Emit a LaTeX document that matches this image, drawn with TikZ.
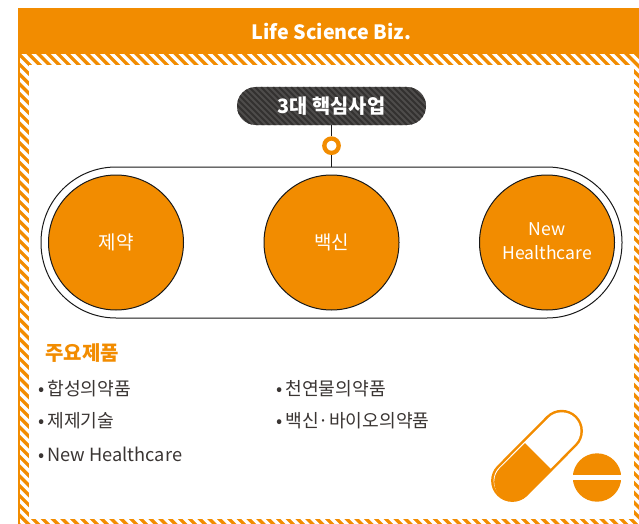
\documentclass[tikz,border=0pt]{standalone}
\usepackage{fontspec}
\setmainfont{Noto Sans CJK KR}
\definecolor{brand}{HTML}{F28C00}
\definecolor{pilldark}{HTML}{4E4C4B}
\definecolor{pillstripe}{HTML}{333130}
\definecolor{inktext}{HTML}{3A3533}
\tikzset{
  bigcircle/.style={circle,draw=black!90,line width=1pt,fill=brand,minimum size=135pt,inner sep=0pt,
     text=white,font=\fontsize{19}{24}\selectfont,align=center},
  trackbox/.style={draw=black!90,line width=1pt,rounded corners=75pt,minimum width=581pt,minimum height=151pt,inner sep=0pt},
  titlepill/.style={rounded corners=18.8pt,minimum width=189pt,minimum height=38pt,inner sep=0pt,fill=pilldark,text=white,
     font=\fontsize{19.8}{22}\selectfont\bfseries,
     path picture={\foreach \s in {-60,-54,...,200}{\draw[pillstripe,line width=2.1pt]
        ([xshift=\s pt]path picture bounding box.north west) -- ++(60pt,-60pt);}}},
  ringnode/.style={circle,draw=brand,line width=4.3pt,fill=white,minimum size=14.4pt,inner sep=0pt},
  listitem/.style={anchor=west,inner sep=0pt,text=inktext,font=\fontsize{18.2}{20}\selectfont},
  connector/.style={draw=black!90,line width=1pt},
}
\begin{document}
\begin{tikzpicture}[x=1pt,y=-1pt]
\useasboundingbox (0,0) rectangle (639,524);
\fill[white] (0,0) rectangle (639,524);
% frame
\fill[brand] (18,8) rectangle (639,524);
\begin{scope}
\clip (20,54) rectangle (639,524);
\foreach \s in {-480,-470.2,...,640}{\draw[white,line width=3.3pt] (\s,50) -- ++(480,480);}
\end{scope}
\fill[white] (29,65) rectangle (634,519);
\fill[brand] (18,8) rectangle (639,54);
\node[text=white,font=\fontsize{19.7}{22}\selectfont\bfseries,inner sep=0pt] (header) at (331.5,31) {Life Science Biz.};
% track and circles
\node[trackbox] (track) at (331.5,242.5) {};
\node[titlepill] (title) at (331.5,106) {3대 핵심사업};
\node[ringnode] (ring) at (331.5,145.7) {};
\draw[connector] (title) -- (ring);
\draw[connector] (ring) -- (track);
\node[bigcircle] (pharma) at (116,242.5) {제약};
\node[bigcircle] (vaccine) at (331.5,242.5) {백신};
\node[bigcircle] (health) at (547,242.5) {\raisebox{1.5pt}{\fontsize{17.6}{24}\selectfont\begin{tabular}{@{}c@{}}New\\Healthcare\end{tabular}}};
% list
\node[anchor=west,inner sep=0pt,text=brand,font=\fontsize{20}{22}\selectfont\bfseries] (maintitle) at (45,353.5) {주요제품};
\node[listitem] (a) at (38.5,388.5) {•\hspace{2.6pt}합성의약품};
\node[listitem] (b) at (38.5,421) {•\hspace{2.6pt}제제기술};
\node[listitem] (c) at (38.5,454) {•\hspace{2.6pt}New Healthcare};
\node[listitem] (d) at (276.5,388.5) {•\hspace{2.6pt}천연물의약품};
\node[listitem] (e) at (276.5,421) {•\hspace{2.6pt}백신·바이오의약품};
% capsule
\draw[brand,line width=42.4pt,line cap=round] (512.3,480.7) -- (561.7,431);
\draw[white,line width=37.4pt,line cap=round] (512.3,480.7) -- (561.7,431);
\fill[brand] (513.5,481.9) circle[radius=19.3];
\draw[brand,line width=38.6pt] (513.5,481.9) -- (538.6,456.8);
% tablet
\fill[brand] (597,477.5) circle[radius=24.2];
\fill[white] (572,475) rectangle (622,480);
\end{tikzpicture}
\end{document}
